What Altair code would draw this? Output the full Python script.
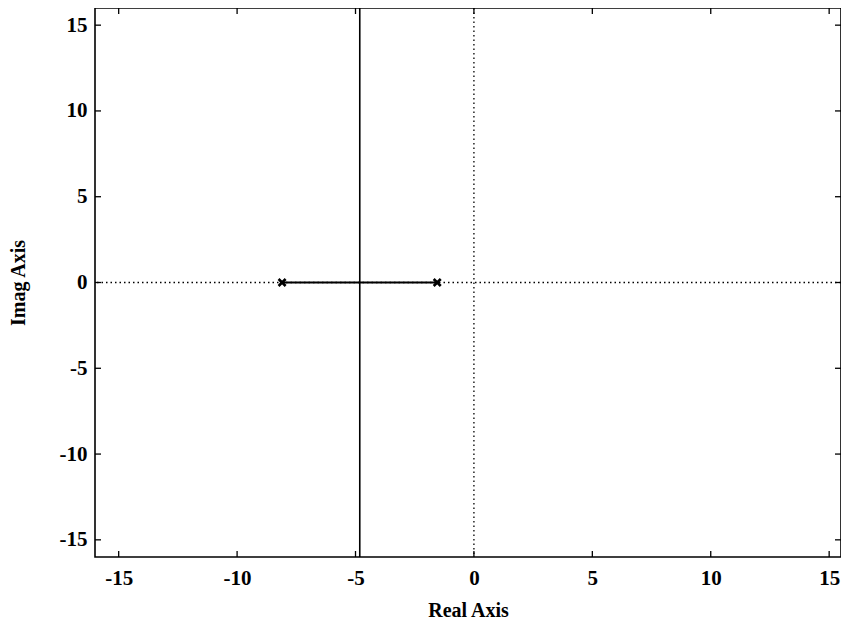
import altair as alt
import pandas as pd

# data
poles_re = [-8.1, -1.55]
poles_im = [0.0, 0.0]
branch_re = [-8.1, -1.55]
branch_im = [0.0, 0.0]
breakaway_re = -4.82
vert_im = [-16.0, 16.0]
x_ticks = [-15, -10, -5, 0, 5, 10, 15]
y_ticks = [-15, -10, -5, 0, 5, 10, 15]
x_domain = [-16, 15.5]
y_domain = [-16, 16]

W, H = 746, 549
FONT = "Liberation Serif"
LBL = "replace(format(datum.value, 'd'), '\u2212', '-')"

xs = alt.Scale(domain=x_domain, nice=False, zero=False)
ys = alt.Scale(domain=y_domain, nice=False, zero=False)

poles = pd.DataFrame({"re": poles_re, "im": poles_im})
branch = pd.DataFrame({"re": branch_re, "im": branch_im})
vert = pd.DataFrame({"re": [breakaway_re, breakaway_re], "im": vert_im})
xt = pd.DataFrame({"v": x_ticks})
yt = pd.DataFrame({"v": y_ticks})
zero = pd.DataFrame({"v": [0]})

xaxis = alt.Axis(values=x_ticks, title="Real Axis", domain=False, ticks=False, grid=False,
                 labelExpr=LBL,
                 labelFont=FONT, labelFontWeight="bold", labelFontSize=21, labelColor="black",
                 labelPadding=10, titleFont=FONT, titleFontWeight="bold", titleFontSize=20,
                 titleColor="black", titlePadding=12)
yaxis = alt.Axis(values=y_ticks, title="Imag Axis", domain=False, ticks=False, grid=False,
                 labelExpr=LBL,
                 labelFont=FONT, labelFontWeight="bold", labelFontSize=21, labelColor="black",
                 labelPadding=8, titleFont=FONT, titleFontWeight="bold", titleFontSize=20,
                 titleColor="black", titlePadding=31)

base_x = alt.X("re:Q", scale=xs, axis=xaxis)
base_y = alt.Y("im:Q", scale=ys, axis=yaxis)

# dotted axes through origin
hzero = alt.Chart(zero).mark_rule(color="black", strokeDash=[1.5, 3], strokeWidth=1.3).encode(
    y=alt.Y("v:Q", scale=ys, axis=yaxis))
vzero = alt.Chart(zero).mark_rule(color="black", strokeDash=[1.5, 3], strokeWidth=1.3).encode(
    x=alt.X("v:Q", scale=xs, axis=xaxis))

branch_line = alt.Chart(branch).mark_line(color="black", strokeWidth=2).encode(x=base_x, y=base_y)
vert_line = alt.Chart(vert).mark_line(color="black", strokeWidth=1.6).encode(x=base_x, y=base_y)
pole_marks = alt.Chart(poles).mark_point(
    shape="M-1,-1L1,1M-1,1L1,-1", size=50, color="black", strokeWidth=2.6, filled=False,
    opacity=1
).encode(x=base_x, y=base_y)

tl = 6
bt = alt.Chart(xt).mark_rule(color="black", strokeWidth=1.3).encode(
    x=alt.X("v:Q", scale=xs, axis=xaxis), y=alt.value(H), y2=alt.value(H - tl))
tt = alt.Chart(xt).mark_rule(color="black", strokeWidth=1.3).encode(
    x=alt.X("v:Q", scale=xs, axis=xaxis), y=alt.value(0), y2=alt.value(tl))
lt = alt.Chart(yt).mark_rule(color="black", strokeWidth=1.3).encode(
    y=alt.Y("v:Q", scale=ys, axis=yaxis), x=alt.value(0), x2=alt.value(tl))
rt = alt.Chart(yt).mark_rule(color="black", strokeWidth=1.3).encode(
    y=alt.Y("v:Q", scale=ys, axis=yaxis), x=alt.value(W), x2=alt.value(W - tl))

chart = alt.layer(hzero, vzero, branch_line, vert_line, pole_marks, bt, tt, lt, rt).properties(
    width=W, height=H,
    autosize=alt.AutoSizeParams(type="none"),
    padding={"left": 87, "top": 0, "right": 0, "bottom": 68},
).configure(background="white").configure_view(stroke="black", strokeWidth=1.6)

chart.save("out.html", embed_options={"renderer": "svg", "actions": False})
